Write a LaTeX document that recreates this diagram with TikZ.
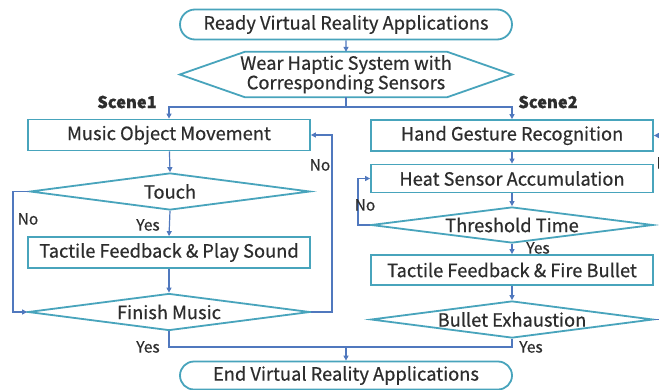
\documentclass[tikz,border=0pt]{standalone}
\usepackage{fontspec}
\setmainfont{Noto Sans CJK KR}[FakeBold=0.5]
\usetikzlibrary{shapes.geometric,shapes.misc,arrows.meta,calc}
\definecolor{boxc}{RGB}{72,164,188}
\definecolor{linec}{RGB}{80,120,190}
\definecolor{txtc}{RGB}{45,45,45}
\begin{document}
\begin{tikzpicture}[x=1pt,y=-1pt,
  every node/.style={text=txtc,font=\fontsize{18.3}{20}\selectfont},
  term/.style={rounded rectangle,draw=boxc,line width=1.8pt,minimum width=332pt,minimum height=30pt,inner sep=0pt},
  procbox/.style={rectangle,draw=boxc,line width=1.8pt,minimum width=282pt,minimum height=30pt,inner sep=0pt},
  dia/.style={diamond,draw=boxc,line width=1.8pt,minimum width=282pt,minimum height=37pt,inner sep=0pt},
  conn/.style={draw=linec,line width=1.2pt},
  arr/.style={conn,-{Triangle[length=5pt,width=5pt]}},
  lbl/.style={font=\fontsize{15.5}{17}\selectfont}
]
\useasboundingbox (0,0) rectangle (659,389);
\fill[white] (0,0) rectangle (659,389);

% top
\node[term] (ready) at (346,24.5) {Ready Virtual Reality Applications};
\node[minimum width=332pt,minimum height=45pt,inner sep=0pt,align=center,font=\fontsize{18.3}{19.5}\selectfont] (wear) at (346,74.5) {Wear Haptic System with\\Corresponding Sensors};
\draw[boxc,line width=1.8pt,line join=miter]
  (wear.west) -- ($(wear.north west)+(65,0)$) -- ($(wear.north east)+(-65,0)$) -- (wear.east)
  -- ($(wear.south east)+(-65,0)$) -- ($(wear.south west)+(65,0)$) -- cycle;

\node[font=\fontsize{16.5}{18}\selectfont\bfseries] (sc1) at (127,102) {Scene1};
\node[font=\fontsize{16.5}{18}\selectfont\bfseries] (sc2) at (548,102) {Scene2};

% left column
\node[procbox,minimum height=31pt] (music) at (169,135) {Music Object Movement};
\node[dia,minimum width=280pt] (touch) at (170,191.5) {};
\node at (touch) {Touch};
\node[procbox,minimum height=31pt] (tacta) at (169,252.5) {Tactile Feedback \& Play Sound};
\node[dia] (finish) at (169,312) {};
\node at (finish) {Finish Music};

% right column
\node[procbox,minimum height=31pt] (hand) at (512,135.5) {Hand Gesture Recognition};
\node[procbox,minimum height=28pt] (heat) at (512,178.5) {Heat Sensor Accumulation};
\node[dia,minimum height=36pt] (thresh) at (512,225) {};
\node at (thresh) {Threshold Time};
\node[procbox] (fire) at (512,270) {Tactile Feedback \& Fire Bullet};
\node[dia] (bullet) at (512,319.5) {};
\node at (bullet) {Bullet Exhaustion};

% end
\node[term,minimum height=28pt] (end) at (346,375.5) {End Virtual Reality Applications};

% connectors
\coordinate (split) at (346,107);
\coordinate (join) at (346,347);
\draw[arr] (ready) -- (wear.north);
\draw[conn] (wear.south) -- (split);
\draw[arr] (split) -| (music.north);
\draw[arr] (split) -| (hand.north);

\draw[arr] (music) -- (touch.north);
\draw[arr] (touch.south) -- (tacta.north);
\draw[arr] (tacta) -- (finish.north);
\draw[arr] (touch.west) -- (13,191.5) |- (finish.west);
\draw[arr] (finish.east) -- (332,312) |- (music.east);
\draw[conn] (finish.south) |- (join);

\draw[arr] (hand) -- (heat.north);
\draw[arr] (heat) -- (thresh.north);
\draw[arr] (thresh.south) -- (fire.north);
\draw[arr] (fire) -- (bullet.north);
\draw[arr] (thresh.west) -- (358,225) |- (heat.west);
\draw[arr] (bullet.east) -- (675,319.5) |- (hand.east);
\draw[conn] (bullet.south) |- (join);
\draw[arr] (join) -- (end.north);

% labels
\node[lbl] (y1) at (148,225) {Yes};
\node[lbl] (n1) at (28,219) {No};
\node[lbl] (n2) at (320,165) {No};
\node[lbl] (y2) at (148,347) {Yes};
\node[lbl] (n3) at (365,205) {No};
\node[lbl] (y3) at (538,248) {Yes};
\node[lbl] (y4) at (531,347) {Yes};
\node[lbl,anchor=west] (n4) at (653,163) {No};
\end{tikzpicture}
\end{document}
